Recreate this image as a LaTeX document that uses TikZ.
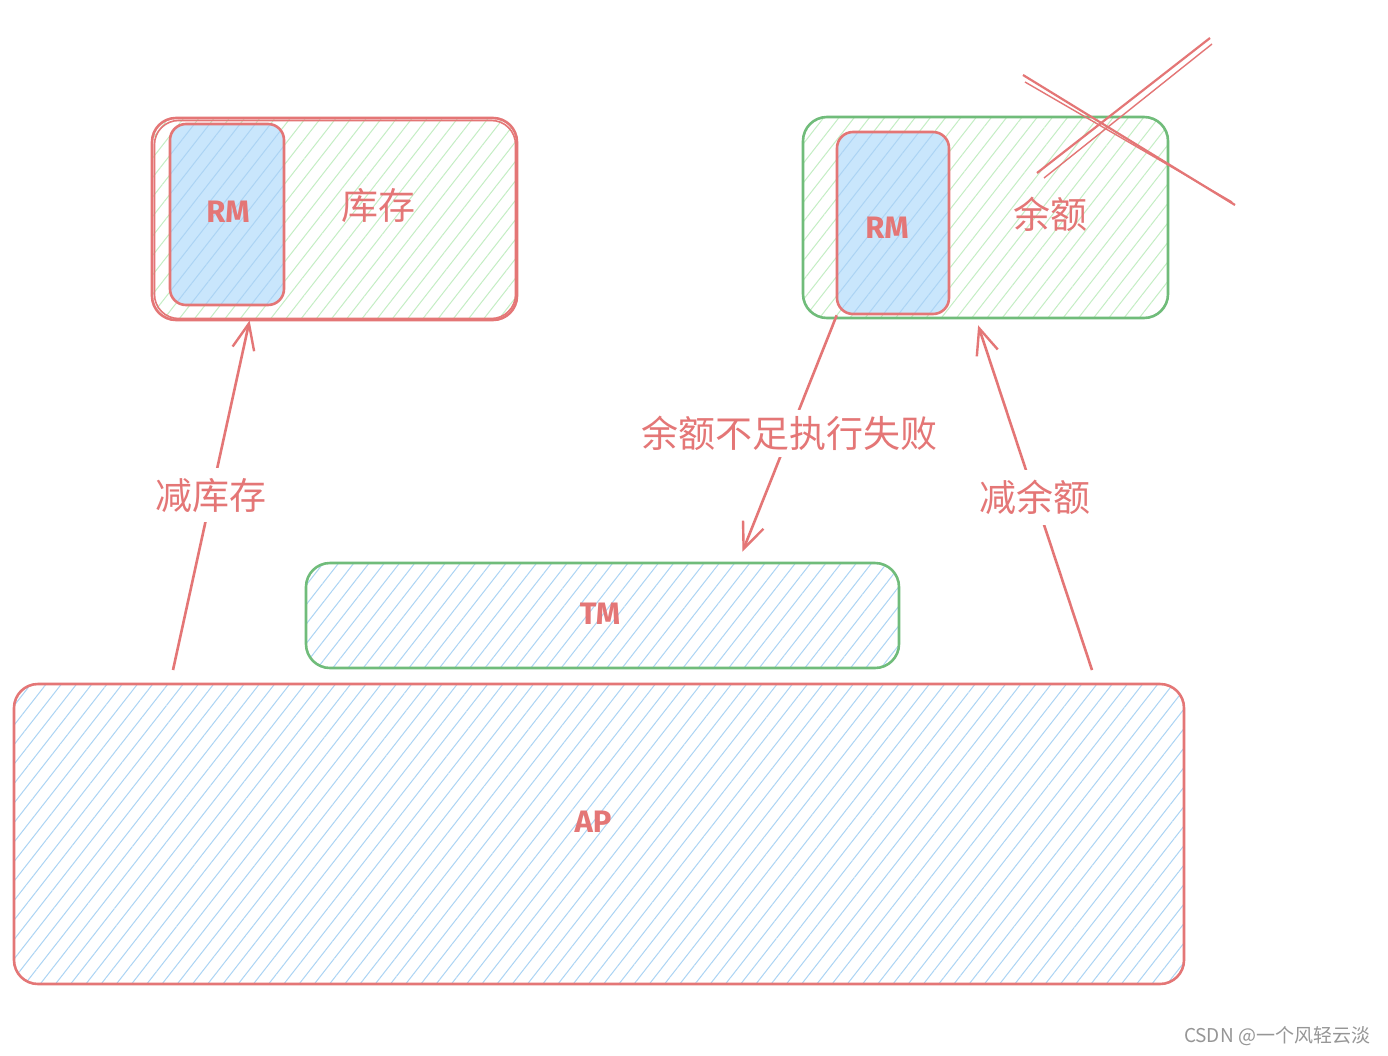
\documentclass[tikz,border=0pt]{standalone}
\usepackage{fontspec}
\setmainfont{Noto Sans CJK SC}
\newfontfamily\handfont{Fira Sans}
\usetikzlibrary{arrows.meta,patterns.meta,positioning,calc}

\definecolor{sketchred}{RGB}{228,118,118}
\definecolor{sketchgreen}{RGB}{112,188,122}
\definecolor{hatchgreen}{RGB}{196,238,196}
\definecolor{fillblue}{RGB}{201,230,252}
\definecolor{hatchblue}{RGB}{172,212,244}
\definecolor{markgray}{RGB}{150,150,150}

\tikzset{
  box/.style={rounded corners=24pt, line width=2.6pt},
  greenhatch/.style={pattern={Lines[angle=52,distance=12pt,line width=1pt]}, pattern color=hatchgreen},
  bluehatch/.style={pattern={Lines[angle=52,distance=12pt,line width=1pt]}, pattern color=hatchblue},
  rmbox/.style={box, rounded corners=16pt, draw=sketchred, preaction={fill=fillblue}, bluehatch,
    text=sketchred, font=\handfont\bfseries\fontsize{31}{36}\selectfont},
  handtext/.style={text=sketchred, font=\handfont\bfseries\fontsize{31}{36}\selectfont},
  boxtext/.style={text=sketchred, font=\fontsize{37}{40}\selectfont},
  arrowlabel/.style={fill=white, inner sep=10pt, text=sketchred, font=\fontsize{37}{40}\selectfont},
  arrow/.style={draw=sketchred, line width=2.6pt, -{Straight Barb[length=26pt,width=22pt,line width=2.4pt]}},
  redline/.style={draw=sketchred, line width=2.2pt}
}

\begin{document}
\begin{tikzpicture}[x=1pt,y=-1pt]
\useasboundingbox[fill=white] (0,0) rectangle (1388,1055);

% stock side
\node[box, draw=sketchred, greenhatch, minimum width=365pt, minimum height=202pt] (stock) at (334.5,219) {};
\draw[box, draw=sketchred, line width=1.6pt] ([shift={(3,-2)}]stock.south west) rectangle ([shift={(-2,3)}]stock.north east);
\node[rmbox, minimum width=114pt, minimum height=181pt] (stockrm) at (227,214.5) {};
\node[handtext] at (228,212) {RM};
\node[boxtext] (stocktext) at (378,206) {库存};

% balance side
\node[box, draw=sketchgreen, greenhatch, minimum width=365pt, minimum height=201pt] (balance) at (985.5,217.5) {};
\node[rmbox, minimum width=112pt, minimum height=182pt] (balancerm) at (893,223) {};
\node[handtext] at (887,228) {RM};
\node[boxtext] (balancetext) at (1050,214) {余额};

% cross
\draw[redline] (1023,75) -- (1235,205);
\draw[redline, line width=1.4pt] (1025,82) -- (1232,202);
\draw[redline] (1037,173) -- (1210,38);
\draw[redline, line width=1.4pt] (1044,178) -- (1212,44);

% TM and AP
\node[box, draw=sketchgreen, bluehatch, minimum width=593pt, minimum height=105pt] (tm) at (602.5,615.5) {};
\node[handtext] at (600,614) {TM};
\node[box, draw=sketchred, bluehatch, minimum width=1170pt, minimum height=300pt] (ap) at (599,834) {};
\node[handtext] at (593,822) {AP};

% arrows
\coordinate (stockfoot) at (173,670);
\coordinate (balancefoot) at (1092,670);
\draw[arrow] (stockfoot) -- node[arrowlabel] {减库存} ($(stock.south west)!0.268!(stock.south east)$);
\draw[arrow] (balancefoot) -- node[arrowlabel] {减余额} ($(balance.south west)!0.48!(balance.south east)+(0,6)$);
\draw[arrow] ($(balancerm.south west)+(1,0)$) -- node[arrowlabel, inner sep=6pt] {余额不足执行失败} ($(tm.north west)!0.735!(tm.north east)+(0,-10)$);

\node[text=markgray, font=\fontsize{19}{22}\selectfont] (mark) at (1277,1036) {CSDN @一个风轻云淡};
\end{tikzpicture}
\end{document}
